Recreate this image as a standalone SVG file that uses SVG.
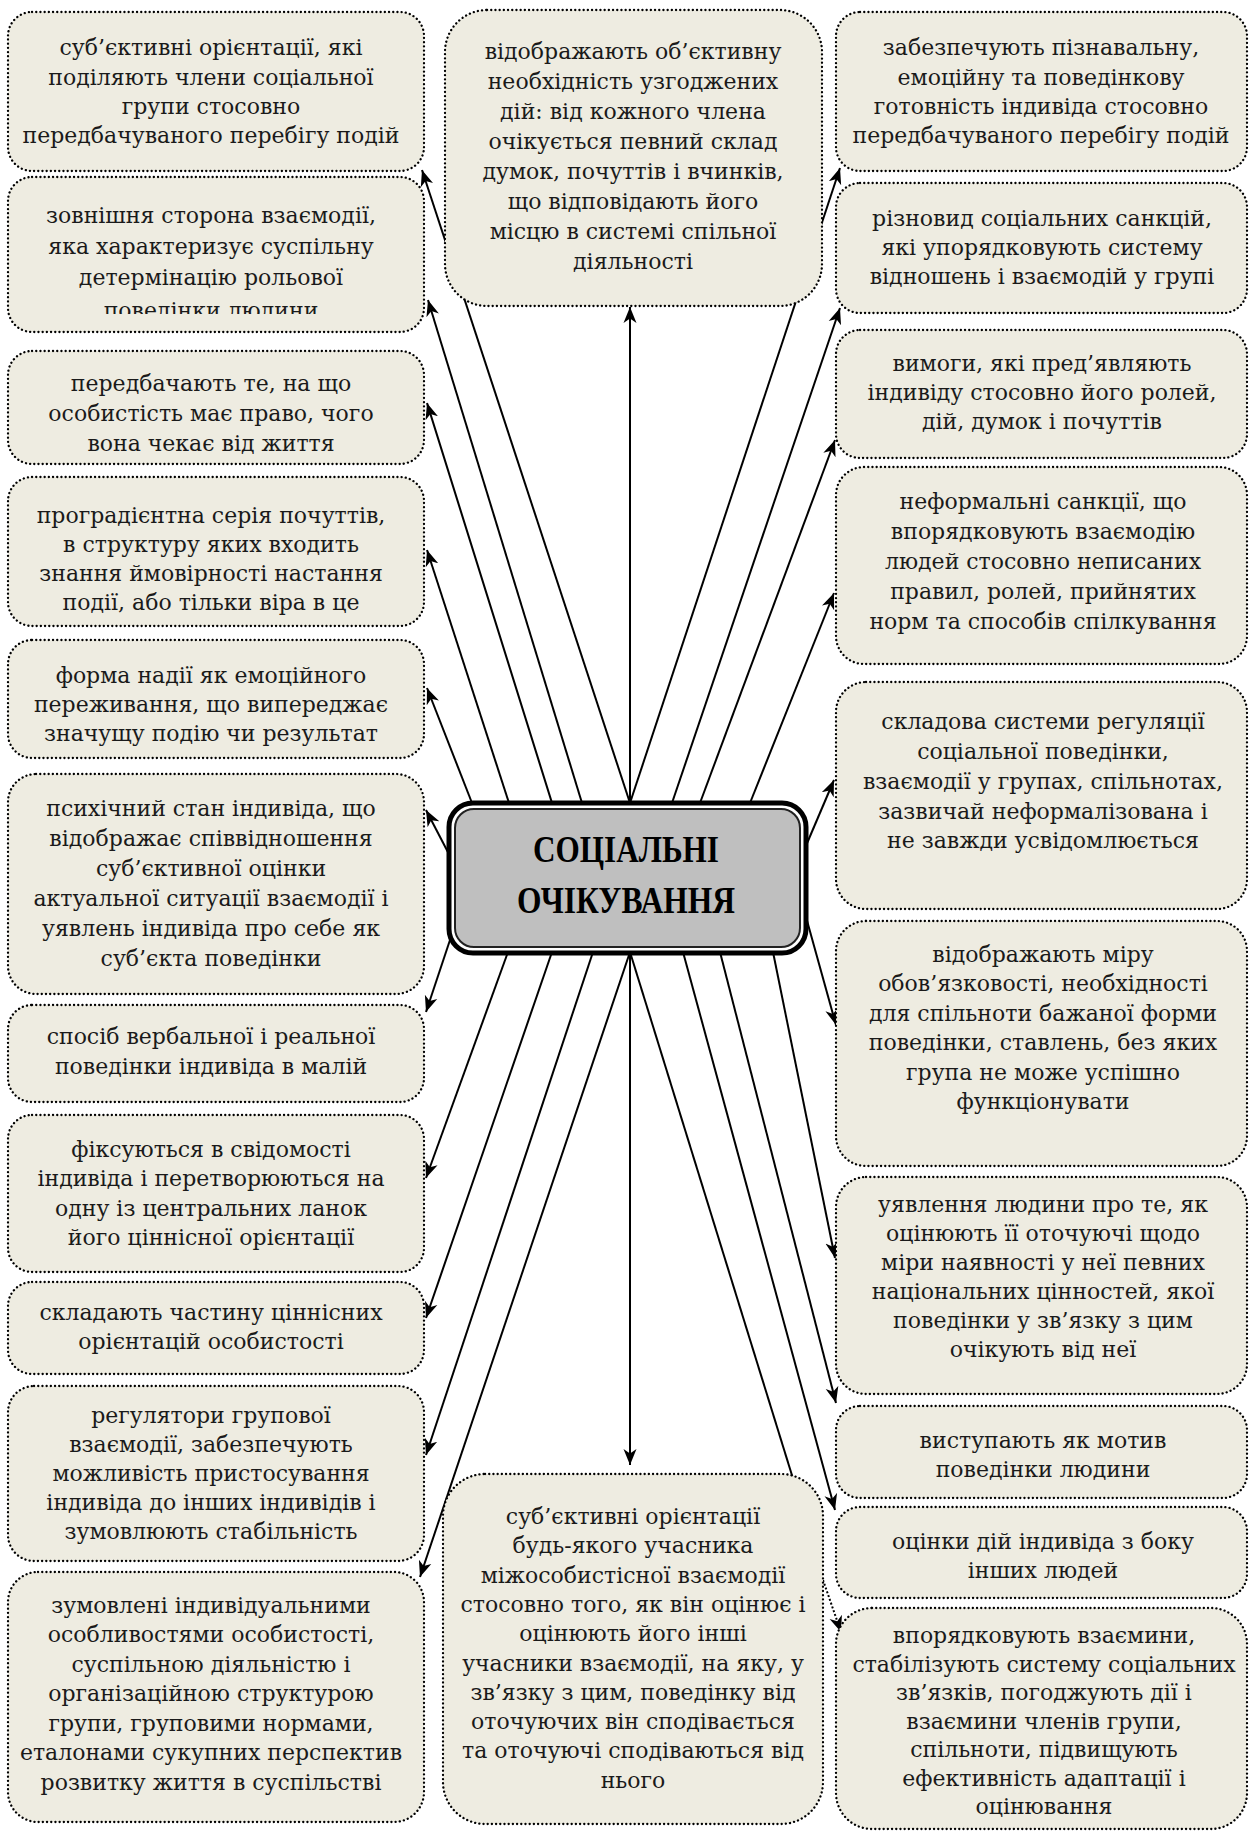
<svg xmlns="http://www.w3.org/2000/svg" width="1252" height="1831" viewBox="0 0 1252 1831">
<style>
.box{fill:#EEECE1;stroke:#000;stroke-width:2.3;stroke-dasharray:0.1 4.1;stroke-linecap:round}
.t{font-family:'DejaVu Serif','Liberation Serif',serif;font-size:22px;fill:#1a1a1a;text-anchor:middle}
.c{stroke:#000;stroke-width:2;fill:none;marker-end:url(#ah)}
.title{font-family:'Liberation Serif','DejaVu Serif',serif;font-weight:bold;font-size:37px;fill:#000;text-anchor:middle}
</style>
<defs>
<marker id="ah" markerUnits="userSpaceOnUse" viewBox="0 -7 17 14" refX="16" refY="0" markerWidth="17" markerHeight="14" orient="auto">
<path d="M0,-6.5 L16,0 L0,6.5 L4.5,0 Z" fill="#000"/>
</marker>
<clipPath id="clipL2"><rect x="8" y="177" width="418" height="137"/></clipPath>
</defs>
<rect width="1252" height="1831" fill="#fff"/>
<g id="connectors">
<line class="c" x1="630" y1="803" x2="422" y2="170"/>
<line class="c" x1="582" y1="803" x2="428" y2="300"/>
<line class="c" x1="552" y1="803" x2="427" y2="403"/>
<line class="c" x1="509" y1="803" x2="427" y2="550"/>
<line class="c" x1="472" y1="803" x2="427" y2="688"/>
<line class="c" x1="451" y1="858" x2="426" y2="810"/>
<line class="c" x1="630" y1="803" x2="630" y2="307"/>
<line class="c" x1="630" y1="803" x2="840" y2="168"/>
<line class="c" x1="672" y1="803" x2="840" y2="308"/>
<line class="c" x1="700" y1="803" x2="835" y2="440"/>
<line class="c" x1="750" y1="803" x2="834" y2="593"/>
<line class="c" x1="805" y1="848" x2="834" y2="780"/>
<line class="c" x1="450" y1="940" x2="426" y2="1012"/>
<line class="c" x1="508" y1="952" x2="426" y2="1178"/>
<line class="c" x1="552" y1="952" x2="426" y2="1318"/>
<line class="c" x1="593" y1="952" x2="426" y2="1455"/>
<line class="c" x1="630" y1="952" x2="420" y2="1577"/>
<line class="c" x1="630" y1="952" x2="630" y2="1465"/>
<line x1="630" y1="952" x2="812" y2="1540" stroke="#000" stroke-width="2"/>
<line class="c" x1="823" y1="1580" x2="841" y2="1632" stroke-width="1.6" stroke-dasharray="2 2"/>
<line class="c" x1="683" y1="952" x2="835" y2="1510"/>
<line class="c" x1="720" y1="952" x2="836" y2="1403"/>
<line class="c" x1="773" y1="952" x2="835" y2="1258"/>
<line class="c" x1="806" y1="917" x2="836" y2="1025"/>
</g>
<g id="center">
<rect x="449" y="803" width="357" height="150" rx="24" fill="#fff" stroke="#000" stroke-width="5"/>
<rect x="455" y="809" width="345" height="138" rx="19" fill="#BFBFBF" stroke="#222" stroke-width="2"/>
<text class="title" x="626" y="862" textLength="186" lengthAdjust="spacingAndGlyphs">СОЦІАЛЬНІ</text>
<text class="title" x="626" y="913" textLength="218" lengthAdjust="spacingAndGlyphs">ОЧІКУВАННЯ</text>
</g>
<g id="L1">
<rect class="box" x="8" y="12" width="416" height="159" rx="24"/>
<text class="t"><tspan x="211" y="55">суб’єктивні орієнтації, які</tspan><tspan x="211" y="85">поділяють члени соціальної</tspan><tspan x="211" y="114">групи стосовно</tspan><tspan x="211" y="143">передбачуваного перебігу подій</tspan></text>
</g>
<g id="L2">
<rect class="box" x="8" y="177" width="416" height="155" rx="24"/>
<text class="t" clip-path="url(#clipL2)"><tspan x="211" y="223">зовнішня сторона взаємодії,</tspan><tspan x="211" y="254">яка характеризує суспільну</tspan><tspan x="211" y="285">детермінацію рольової</tspan><tspan x="211" y="318">поведінки людини</tspan></text>
</g>
<g id="L3">
<rect class="box" x="8" y="351" width="416" height="113" rx="24"/>
<text class="t"><tspan x="211" y="391">передбачають те, на що</tspan><tspan x="211" y="421">особистість має право, чого</tspan><tspan x="211" y="451">вона чекає від життя</tspan></text>
</g>
<g id="L4">
<rect class="box" x="8" y="477" width="416" height="149" rx="24"/>
<text class="t"><tspan x="211" y="523">проградієнтна серія почуттів,</tspan><tspan x="211" y="552">в структуру яких входить</tspan><tspan x="211" y="581">знання ймовірності настання</tspan><tspan x="211" y="610">події, або тільки віра в це</tspan></text>
</g>
<g id="L5">
<rect class="box" x="8" y="640" width="416" height="118" rx="24"/>
<text class="t"><tspan x="211" y="683">форма надії як емоційного</tspan><tspan x="211" y="712">переживання, що випереджає</tspan><tspan x="211" y="741">значущу подію чи результат</tspan></text>
</g>
<g id="L6">
<rect class="box" x="8" y="774" width="416" height="220" rx="28"/>
<text class="t"><tspan x="211" y="816">психічний стан індивіда, що</tspan><tspan x="211" y="846">відображає співвідношення</tspan><tspan x="211" y="876">суб’єктивної оцінки</tspan><tspan x="211" y="906">актуальної ситуації взаємодії і</tspan><tspan x="211" y="936">уявлень індивіда про себе як</tspan><tspan x="211" y="966">суб’єкта поведінки</tspan></text>
</g>
<g id="L7">
<rect class="box" x="8" y="1005" width="416" height="97" rx="24"/>
<text class="t"><tspan x="211" y="1044">спосіб вербальної і реальної</tspan><tspan x="211" y="1074">поведінки індивіда в малій</tspan></text>
</g>
<g id="L8">
<rect class="box" x="8" y="1115" width="416" height="157" rx="24"/>
<text class="t"><tspan x="211" y="1157">фіксуються в свідомості</tspan><tspan x="211" y="1186">індивіда і перетворюються на</tspan><tspan x="211" y="1216">одну із центральних ланок</tspan><tspan x="211" y="1245">його ціннісної орієнтації</tspan></text>
</g>
<g id="L9">
<rect class="box" x="8" y="1282" width="416" height="92" rx="24"/>
<text class="t"><tspan x="211" y="1320">складають частину ціннісних</tspan><tspan x="211" y="1349">орієнтацій особистості</tspan></text>
</g>
<g id="L10">
<rect class="box" x="8" y="1386" width="416" height="175" rx="26"/>
<text class="t"><tspan x="211" y="1423">регулятори групової</tspan><tspan x="211" y="1452">взаємодії, забезпечують</tspan><tspan x="211" y="1481">можливість пристосування</tspan><tspan x="211" y="1510">індивіда до інших індивідів і</tspan><tspan x="211" y="1539">зумовлюють стабільність</tspan></text>
</g>
<g id="L11">
<rect class="box" x="8" y="1572" width="416" height="250" rx="30"/>
<text class="t"><tspan x="211" y="1613">зумовлені індивідуальними</tspan><tspan x="211" y="1642">особливостями особистості,</tspan><tspan x="211" y="1672">суспільною діяльністю і</tspan><tspan x="211" y="1701">організаційною структурою</tspan><tspan x="211" y="1731">групи, груповими нормами,</tspan><tspan x="211" y="1760">еталонами сукупних перспектив</tspan><tspan x="211" y="1790">розвитку життя в суспільстві</tspan></text>
</g>
<g id="C1">
<rect class="box" x="445" y="10" width="377" height="296" rx="42"/>
<text class="t"><tspan x="633" y="59">відображають об’єктивну</tspan><tspan x="633" y="89">необхідність узгоджених</tspan><tspan x="633" y="119">дій: від кожного члена</tspan><tspan x="633" y="149">очікується певний склад</tspan><tspan x="633" y="179">думок, почуттів і вчинків,</tspan><tspan x="633" y="209">що відповідають його</tspan><tspan x="633" y="239">місцю в системі спільної</tspan><tspan x="633" y="269">діяльності</tspan></text>
</g>
<g id="C2">
<rect class="box" x="443" y="1474" width="380" height="350" rx="42"/>
<text class="t"><tspan x="633" y="1524">суб’єктивні орієнтації</tspan><tspan x="633" y="1553">будь-якого учасника</tspan><tspan x="633" y="1583">міжособистісної взаємодії</tspan><tspan x="633" y="1612">стосовно того, як він оцінює і</tspan><tspan x="633" y="1641">оцінюють його інші</tspan><tspan x="633" y="1671">учасники взаємодії, на яку, у</tspan><tspan x="633" y="1700">зв’язку з цим, поведінку від</tspan><tspan x="633" y="1729">оточуючих він сподівається</tspan><tspan x="633" y="1758">та оточуючі сподіваються від</tspan><tspan x="633" y="1788">нього</tspan></text>
</g>
<g id="R1">
<rect class="box" x="836" y="12" width="411" height="159" rx="24"/>
<text class="t"><tspan x="1041" y="55">забезпечують пізнавальну,</tspan><tspan x="1041" y="85">емоційну та поведінкову</tspan><tspan x="1041" y="114">готовність індивіда стосовно</tspan><tspan x="1041" y="143">передбачуваного перебігу подій</tspan></text>
</g>
<g id="R2">
<rect class="box" x="836" y="183" width="411" height="130" rx="24"/>
<text class="t"><tspan x="1042" y="226">різновид соціальних санкцій,</tspan><tspan x="1042" y="255">які упорядковують систему</tspan><tspan x="1042" y="284">відношень і взаємодій у групі</tspan></text>
</g>
<g id="R3">
<rect class="box" x="836" y="330" width="411" height="128" rx="24"/>
<text class="t"><tspan x="1042" y="371">вимоги, які пред’являють</tspan><tspan x="1042" y="400">індивіду стосовно його ролей,</tspan><tspan x="1042" y="429">дій, думок і почуттів</tspan></text>
</g>
<g id="R4">
<rect class="box" x="836" y="467" width="411" height="197" rx="28"/>
<text class="t"><tspan x="1043" y="509">неформальні санкції, що</tspan><tspan x="1043" y="539">впорядковують взаємодію</tspan><tspan x="1043" y="569">людей стосовно неписаних</tspan><tspan x="1043" y="599">правил, ролей, прийнятих</tspan><tspan x="1043" y="629">норм та способів спілкування</tspan></text>
</g>
<g id="R5">
<rect class="box" x="836" y="682" width="411" height="227" rx="30"/>
<text class="t"><tspan x="1043" y="729">складова системи регуляції</tspan><tspan x="1043" y="759">соціальної поведінки,</tspan><tspan x="1043" y="789">взаємодії у групах, спільнотах,</tspan><tspan x="1043" y="819">зазвичай неформалізована і</tspan><tspan x="1043" y="848">не завжди усвідомлюється</tspan></text>
</g>
<g id="R6">
<rect class="box" x="836" y="921" width="411" height="245" rx="30"/>
<text class="t"><tspan x="1043" y="962">відображають міру</tspan><tspan x="1043" y="991">обов’язковості, необхідності</tspan><tspan x="1043" y="1021">для спільноти бажаної форми</tspan><tspan x="1043" y="1050">поведінки, ставлень, без яких</tspan><tspan x="1043" y="1080">група не може успішно</tspan><tspan x="1043" y="1109">функціонувати</tspan></text>
</g>
<g id="R7">
<rect class="box" x="836" y="1177" width="411" height="217" rx="30"/>
<text class="t"><tspan x="1043" y="1212">уявлення людини про те, як</tspan><tspan x="1043" y="1241">оцінюють її оточуючі щодо</tspan><tspan x="1043" y="1270">міри наявності у неї певних</tspan><tspan x="1043" y="1299">національних цінностей, якої</tspan><tspan x="1043" y="1328">поведінки у зв’язку з цим</tspan><tspan x="1043" y="1357">очікують від неї</tspan></text>
</g>
<g id="R8">
<rect class="box" x="836" y="1406" width="411" height="92" rx="24"/>
<text class="t"><tspan x="1043" y="1448">виступають як мотив</tspan><tspan x="1043" y="1477">поведінки людини</tspan></text>
</g>
<g id="R9">
<rect class="box" x="836" y="1507" width="411" height="91" rx="24"/>
<text class="t"><tspan x="1043" y="1549">оцінки дій індивіда з боку</tspan><tspan x="1043" y="1578">інших людей</tspan></text>
</g>
<g id="R10">
<rect class="box" x="836" y="1608" width="411" height="221" rx="36"/>
<text class="t"><tspan x="1044" y="1643">впорядковують взаємини,</tspan><tspan x="1044" y="1672">стабілізують систему соціальних</tspan><tspan x="1044" y="1700">зв’язків, погоджують дії і</tspan><tspan x="1044" y="1729">взаємини членів групи,</tspan><tspan x="1044" y="1757">спільноти, підвищують</tspan><tspan x="1044" y="1786">ефективність адаптації і</tspan><tspan x="1044" y="1814">оцінювання</tspan></text>
</g>
</svg>
